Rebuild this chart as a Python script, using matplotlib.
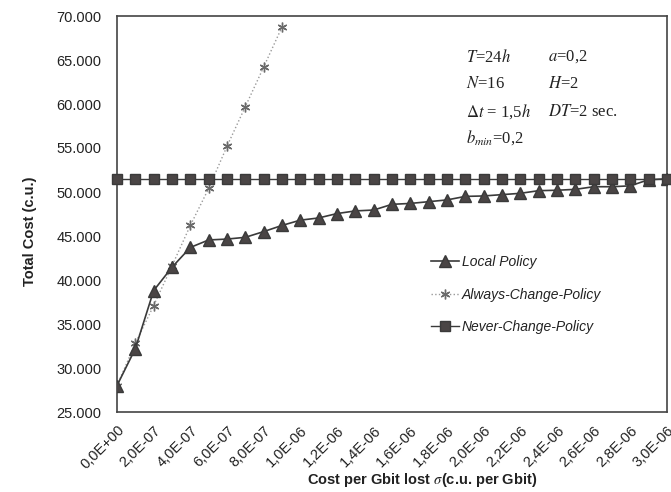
import matplotlib
matplotlib.use("Agg")
import matplotlib.pyplot as plt
import numpy as np
from matplotlib.ticker import FuncFormatter, MultipleLocator

# cost per Gbit lost (sigma), one point every 1E-07
sigma = np.arange(31) * 1e-07

local_policy = [28000, 32200, 38800, 41450, 43700, 44550, 44650, 44850, 45500, 46200,
                46800, 47050, 47550, 47850, 47950, 48600, 48700, 48900, 49100, 49500,
                49550, 49700, 49850, 50150, 50200, 50300, 50600, 50600, 50700, 51400,
                51500]
always_change = [28000, 32800, 37100, 41600, 46200, 50400, 55200, 59700, 64200, 68750]
never_change = [51500] * 31

params_left = [r"$T$=24$h$", r"$N$=16", r"$\Delta t$ = 1,5$h$", r"$b_{min}$=0,2"]
params_right = [r"$a$=0,2", r"$H$=2", r"$DT$=2 sec.", ""]

plt.rcParams["font.family"] = ["Liberation Sans", "DejaVu Sans"]
plt.rcParams["mathtext.fontset"] = "stix"

fig = plt.figure(figsize=(6.71, 4.92), dpi=100)
ax = fig.add_axes([117 / 671, 1 - 412 / 492, 550 / 671, 396 / 492])

ax.plot(sigma, local_policy, "-", color="#3a3a3a", lw=1.2, marker="^",
        ms=8.5, mfc="#4a4545", mec="#3a3a3a", label="Local Policy", zorder=3)
ax.plot(sigma[:len(always_change)], always_change, ":", color="#9a9a9a", lw=1.0,
        marker=(6, 2, 0), ms=7, mec="#6a6a6a", mew=1.0,
        label="Always-Change-Policy", zorder=2)
ax.plot(sigma, never_change, "-", color="#3a3a3a", lw=1.0, marker="s",
        ms=7, mfc="#4a4545", mec="#3a3a3a", label="Never-Change-Policy", zorder=4,
        clip_on=False)

ax.set_xlim(0, 3.0e-06)
ax.set_ylim(25000, 70000)
ax.xaxis.set_major_locator(MultipleLocator(2e-07))
ax.yaxis.set_major_locator(MultipleLocator(5000))
ax.xaxis.set_major_formatter(FuncFormatter(lambda v, p: f"{v:.1E}".replace(".", ",")))
ax.yaxis.set_major_formatter(FuncFormatter(lambda v, p: f"{v:,.0f}".replace(",", ".")))
ax.tick_params(axis="both", length=0, labelsize=10.5, colors="#222222")
ax.tick_params(axis="y", pad=11)
ax.tick_params(axis="x", pad=8)
for lbl in ax.get_xticklabels():
    lbl.set_rotation(45)
    lbl.set_ha("right")
    lbl.set_rotation_mode("anchor")

for s in ax.spines.values():
    s.set_color("#444444")
    s.set_linewidth(1.2)

fig.text(30 / 671, 1 - 231 / 492, "Total Cost (c.u.)", rotation=90, ha="center",
         va="center", fontsize=10.5, fontweight="bold", color="#222222")
fig.text(422 / 671, 1 - 480 / 492, r"Cost per Gbit lost $\sigma$(c.u. per Gbit)",
         ha="center", va="center", fontsize=10.5, fontweight="bold", color="#222222")

# parameter block, Times-like
rows_y = [57, 84, 112, 138]
for txt_l, txt_r, yy in zip(params_left, params_right, rows_y):
    fig.text(466 / 671, 1 - yy / 492, txt_l, fontsize=12, va="center",
             family="Liberation Serif", color="#222222")
    if txt_r:
        fig.text(548 / 671, 1 - yy / 492, txt_r, fontsize=12, va="center",
                 family="Liberation Serif", color="#222222")

leg = ax.legend(loc="upper left", bbox_to_anchor=(0.571, 0.397), frameon=False,
                borderpad=0, borderaxespad=0, labelspacing=1.35, handlelength=2.0,
                handletextpad=0.2, prop={"size": 10, "style": "italic"})
for t in leg.get_texts():
    t.set_color("#222222")

fig.savefig("out.png", dpi=100)
